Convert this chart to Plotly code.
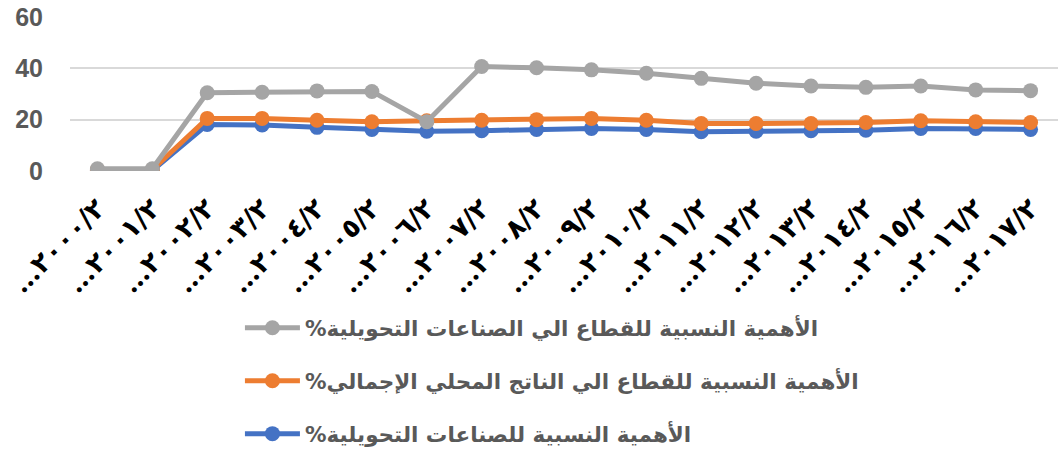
import plotly.graph_objects as go

# Period labels (Arabic-Indic digits)
periods = [
    "…٢٠٠٠/٢", "…٢٠٠١/٢", "…٢٠٠٢/٢", "…٢٠٠٣/٢", "…٢٠٠٤/٢", "…٢٠٠٥/٢",
    "…٢٠٠٦/٢", "…٢٠٠٧/٢", "…٢٠٠٨/٢", "…٢٠٠٩/٢", "…٢٠١٠/٢", "…٢٠١١/٢",
    "…٢٠١٢/٢", "…٢٠١٣/٢", "…٢٠١٤/٢", "…٢٠١٥/٢", "…٢٠١٦/٢", "…٢٠١٧/٢",
]

# Relative importance (%) series
share_manufacturing = [0.2, 0.2, 18.1, 17.9, 17.0, 16.2, 15.5, 15.7, 16.2,
                       16.6, 16.2, 15.3, 15.5, 15.7, 15.9, 16.6, 16.6, 16.2]
share_gdp = [0.5, 0.5, 20.5, 20.5, 19.8, 19.2, 19.6, 19.8, 20.0,
             20.5, 19.8, 18.5, 18.5, 18.5, 18.9, 19.6, 19.2, 18.9]
share_sector_manufacturing = [0.9, 0.9, 30.5, 30.7, 31.2, 31.0, 19.2, 40.7, 40.2,
                              39.4, 38.1, 36.1, 34.2, 33.1, 32.6, 33.1, 31.6, 31.3]

y_ticks = [0, 20, 40, 60]

RLM = "\u200f"
# (legend label, values, colour, legend rank) in drawing order
series = [
    ("الأهمية النسبية للصناعات التحويلية%" + RLM, share_manufacturing, "#4472C4", 3),
    ("الأهمية النسبية للقطاع الي الناتج المحلي الإجمالي%" + RLM, share_gdp, "#ED7D31", 2),
    ("الأهمية النسبية للقطاع الي الصناعات التحويلية%" + RLM, share_sector_manufacturing, "#A5A5A5", 1),
]

fig = go.Figure()
for i, (name, vals, color, rank) in enumerate(series):
    fig.add_trace(go.Scatter(
        x=periods, y=vals, name=name, mode="lines+markers",
        legendgroup=f"g{i}", legendrank=rank,
        line=dict(color=color, width=5),
        marker=dict(color=color, size=15),
    ))

fig.update_layout(
    width=1062, height=452,
    margin=dict(l=70, r=4, t=17, b=281, autoexpand=False),
    paper_bgcolor="white", plot_bgcolor="white",
    showlegend=True,
    legend=dict(
        orientation="v", traceorder="grouped",
        x=0.172, xanchor="left", y=-0.885, yanchor="top",
        tracegroupgap=22, itemwidth=55,
        font=dict(family="DejaVu Sans", size=21.5, color="#595959", weight="bold"),
    ),
)
fig.update_xaxes(
    type="category", range=[-0.5, len(periods) - 0.5], automargin=False,
    tickangle=-45, showgrid=False, zeroline=False,
    showline=False, ticks="",
    tickfont=dict(family="DejaVu Serif, DejaVu Sans", size=27, color="black", weight="bold"),
    ticklabelstandoff=15,
)
fig.update_yaxes(
    range=[0, 60], tickvals=y_ticks, automargin=False,
    showgrid=True, gridcolor="#D9D9D9", gridwidth=1.5,
    zeroline=False, showline=False, ticks="",
    tickfont=dict(family="Liberation Sans, Arial", size=25, color="#595959", weight="bold"),
    ticklabelstandoff=26,
)

fig.write_html("out.html")
